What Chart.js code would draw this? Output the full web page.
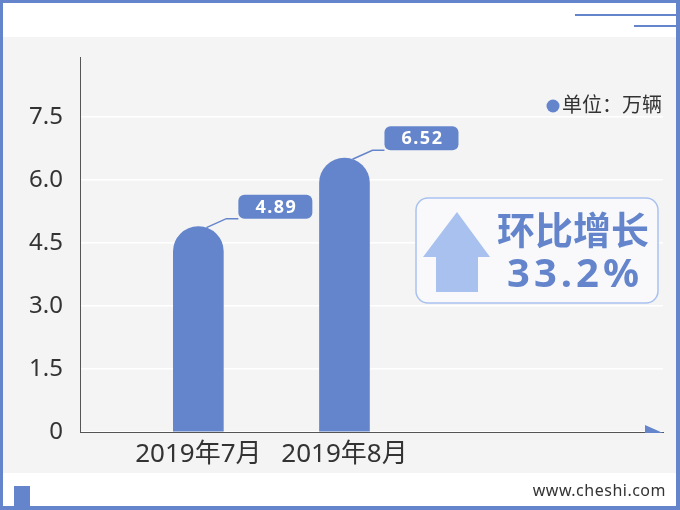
<!DOCTYPE html>
<html>
<head>
<meta charset="utf-8">
<script src="https://cdn.jsdelivr.net/npm/chart.js@4.4.0/dist/chart.umd.min.js"></script>
<style>
  html, body { margin: 0; padding: 0; background: #fff; }
  #wrap { width: 680px; height: 510px; }
</style>
</head>
<body>
<div id="wrap"><canvas id="chart"></canvas></div>
<script>
const months = ['2019年7月', '2019年8月'];
const sales = [4.89, 6.52];
const yTicks = [0, 1.5, 3.0, 4.5, 6.0, 7.5];
const unitText = '单位：万辆';
const growthTitle = '环比增长';
const growthValue = '33.2%';
const siteText = 'www.cheshi.com';

const BLUE = '#6485cb';
const LIGHT = '#a9c1ef';
const FONT = '"Noto Sans", "Noto Sans CJK SC", sans-serif';

// frame, header lines, footer and the overlay texts
const decor = {
  id: 'decor',
  beforeDraw(chart) {
    const ctx = chart.ctx;
    ctx.save();
    ctx.fillStyle = '#fff';
    ctx.fillRect(0, 0, 680, 510);
    ctx.fillStyle = '#f4f4f4';
    ctx.fillRect(3, 37, 673, 436);
    ctx.fillStyle = BLUE;
    ctx.fillRect(0, 0, 680, 3);
    ctx.fillRect(0, 0, 3, 510);
    ctx.fillRect(0, 506, 680, 4);
    ctx.fillRect(676, 0, 4, 510);
    ctx.fillRect(575, 14, 101, 2);
    ctx.fillRect(634, 25, 42, 2);
    ctx.fillRect(14, 486, 16, 20);
    ctx.fillStyle = '#333';
    ctx.font = '16px ' + FONT;
    ctx.textAlign = 'right';
    ctx.textBaseline = 'alphabetic';
    ctx.letterSpacing = '0.5px';
    ctx.fillText(siteText, 666, 496);
    ctx.restore();
  },
  afterDatasetsDraw(chart) {
    const ctx = chart.ctx;
    const area = chart.chartArea;
    ctx.save();

    // arrow at the end of the x axis
    ctx.fillStyle = BLUE;
    ctx.beginPath();
    ctx.moveTo(area.right - 18, area.bottom - 7);
    ctx.lineTo(area.right - 18, area.bottom + 1);
    ctx.lineTo(area.right, area.bottom + 1);
    ctx.closePath();
    ctx.fill();

    // value callouts
    const meta = chart.getDatasetMeta(0);
    meta.data.forEach((bar, i) => {
      const cx = bar.x, top = bar.y;
      ctx.strokeStyle = BLUE;
      ctx.lineWidth = 1.5;
      ctx.beginPath();
      ctx.moveTo(cx + 8, top + 1);
      ctx.lineTo(cx + 28, top - 8);
      ctx.lineTo(cx + 40, top - 8);
      ctx.stroke();
      ctx.fillStyle = BLUE;
      ctx.beginPath();
      ctx.roundRect(cx + 40, top - 32, 74, 24, 6);
      ctx.fill();
      ctx.fillStyle = '#fff';
      ctx.font = 'bold 18px ' + FONT;
      ctx.textAlign = 'center';
      ctx.textBaseline = 'middle';
      ctx.letterSpacing = '1.5px';
      ctx.fillText(sales[i].toFixed(2), cx + 78, top - 19);
    });
    ctx.letterSpacing = '0px';

    // unit legend
    ctx.fillStyle = BLUE;
    ctx.beginPath();
    ctx.arc(553, 106, 6.5, 0, Math.PI * 2);
    ctx.fill();
    ctx.fillStyle = '#333';
    ctx.font = '20px ' + FONT;
    ctx.textAlign = 'left';
    ctx.textBaseline = 'middle';
    ctx.fillText(unitText, 562, 106);

    // growth box
    ctx.fillStyle = '#f9f9fc';
    ctx.strokeStyle = LIGHT;
    ctx.lineWidth = 1.5;
    ctx.beginPath();
    ctx.roundRect(416, 198, 242, 105, 12);
    ctx.fill();
    ctx.stroke();
    ctx.fillStyle = LIGHT;
    ctx.beginPath();
    ctx.moveTo(457, 212);
    ctx.lineTo(490, 257);
    ctx.lineTo(478, 257);
    ctx.lineTo(478, 292);
    ctx.lineTo(436, 292);
    ctx.lineTo(436, 257);
    ctx.lineTo(423, 257);
    ctx.closePath();
    ctx.fill();
    ctx.fillStyle = BLUE;
    ctx.textAlign = 'center';
    ctx.font = 'bold 38px ' + FONT;
    ctx.fillText(growthTitle, 573, 233);
    ctx.font = 'bold 40px ' + FONT;
    ctx.letterSpacing = '4px';
    ctx.fillText(growthValue, 575, 276);

    ctx.restore();
  }
};

new Chart(document.getElementById('chart'), {
  type: 'bar',
  data: {
    datasets: [{
      data: sales.map((v, i) => ({x: i + 1, y: v})),
      backgroundColor: BLUE,
      barThickness: 50,
      borderRadius: {topLeft: 25, topRight: 25},
      borderSkipped: 'bottom',
    }],
  },
  options: {
    responsive: true,
    maintainAspectRatio: false,
    animation: false,
    devicePixelRatio: 1,
    layout: {padding: {top: 57, right: 17, left: 0, bottom: 0}},
    plugins: {legend: {display: false}, tooltip: {enabled: false}},
    scales: {
      x: {
        type: 'linear',
        min: 0.19,
        max: 4.18,
        offset: false,
        grid: {display: false, drawTicks: false},
        border: {color: '#555', width: 1},
        afterBuildTicks: (scale) => { scale.ticks = months.map((m, i) => ({value: i + 1})); },
        afterFit: (scale) => { scale.height = 78; },
        ticks: {
          padding: 7,
          color: '#333',
          font: {size: 26, family: FONT},
          callback: (v) => months[v - 1],
        },
      },
      y: {
        min: 0,
        max: 8.93,
        grid: {color: '#ffffff', lineWidth: 1.5, drawTicks: false},
        border: {color: '#555', width: 1},
        afterBuildTicks: (scale) => { scale.ticks = yTicks.map(v => ({value: v})); },
        afterFit: (scale) => { scale.width = 80; },
        ticks: {
          padding: 17,
          color: '#333',
          font: {size: 24, family: FONT},
          callback: (v) => (v === 0 ? '0' : v.toFixed(1)),
        },
      },
    },
  },
  plugins: [decor],
});
</script>
</body>
</html>
